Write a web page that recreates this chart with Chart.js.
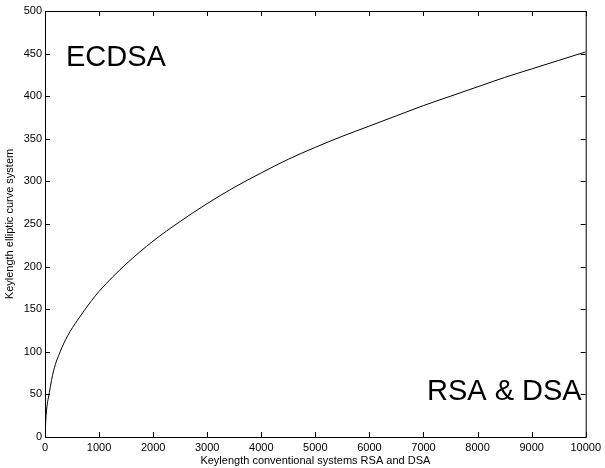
<!DOCTYPE html>
<html>
<head>
<meta charset="utf-8">
<title>Keylength</title>
<script src="https://cdn.jsdelivr.net/npm/chart.js@4/dist/chart.umd.min.js"></script>
<style>
  html, body { margin: 0; padding: 0; background: #fff; }
  #wrap { width: 605px; height: 468px; position: relative; }
</style>
</head>
<body>
<div id="wrap"><canvas id="myChart"></canvas></div>
<script>
'use strict';

// Data
let rsaLengths = [0, 20, 80, 160, 280, 420, 600, 860, 1000, 1500, 2000, 2500, 3000, 3500, 4000,
  4500, 5000, 5500, 6000, 6500, 7000, 7500, 8000, 8500, 9000, 9500, 10000];
let eccLengths = [0, 25, 52, 78, 100, 119, 137, 160, 171, 203, 230, 253, 274, 293, 310,
  326, 340, 353, 365, 377, 389, 400, 411, 422, 432, 442, 452];
let xTicks = [0, 1000, 2000, 3000, 4000, 5000, 6000, 7000, 8000, 9000, 10000];
let yTicks = [0, 50, 100, 150, 200, 250, 300, 350, 400, 450, 500];

let points = [];
for (let i = 0; i < rsaLengths.length; i++) {
  points.push({ x: rsaLengths[i], y: eccLengths[i] });
}

let fontFamily = '"Liberation Sans", Arial, Helvetica, sans-serif';

// Box + inward ticks on all four sides (matlab look)
let boxPlugin = {
  id: 'boxTicks',
  afterDraw(chart) {
    let ctx = chart.ctx;
    let area = chart.chartArea;
    let xs = chart.scales.x;
    let ys = chart.scales.y;
    let len = 5;
    ctx.save();
    ctx.strokeStyle = '#000';
    ctx.lineWidth = 1;
    ctx.strokeRect(area.left + 0.5, area.top + 0.5, area.right - area.left, area.bottom - area.top);
    ctx.beginPath();
    for (let i = 0; i < xTicks.length; i++) {
      let px = Math.round(xs.getPixelForValue(xTicks[i])) + 0.5;
      ctx.moveTo(px, area.bottom);
      ctx.lineTo(px, area.bottom - len);
      ctx.moveTo(px, area.top);
      ctx.lineTo(px, area.top + len);
    }
    for (let i = 0; i < yTicks.length; i++) {
      let py = Math.round(ys.getPixelForValue(yTicks[i])) + 0.5;
      ctx.moveTo(area.left, py);
      ctx.lineTo(area.left + len, py);
      ctx.moveTo(area.right, py);
      ctx.lineTo(area.right - len, py);
    }
    ctx.stroke();

    // region labels
    ctx.fillStyle = '#000';
    ctx.font = '29px ' + fontFamily;
    ctx.textBaseline = 'alphabetic';
    ctx.textAlign = 'left';
    ctx.fillText('ECDSA', area.left + 21, area.top + 55);
    ctx.textAlign = 'right';
    ctx.fillText('RSA & DSA', area.right - 4, area.bottom - 37);
    ctx.restore();
  }
};

let ctx = document.getElementById('myChart').getContext('2d');
let myChart = new Chart(ctx, {
  type: 'line',
  data: {
    datasets: [{
      data: points,
      borderColor: '#000',
      borderWidth: 1,
      pointRadius: 0,
      fill: false,
      cubicInterpolationMode: 'monotone'
    }]
  },
  options: {
    responsive: true,
    maintainAspectRatio: false,
    animation: false,
    layout: {
      padding: { top: 11, right: 17, left: 0, bottom: 0 }
    },
    plugins: {
      legend: { display: false },
      tooltip: { enabled: false }
    },
    scales: {
      x: {
        type: 'linear',
        min: 0,
        max: 10000,
        afterBuildTicks(scale) {
          scale.ticks = xTicks.map(v => ({ value: v }));
        },
        afterFit(scale) {
          scale.height = 31;
        },
        grid: { display: true, drawOnChartArea: false, drawTicks: false },
        border: { display: true, color: '#000', width: 1 },
        ticks: {
          color: '#000',
          padding: 4,
          maxRotation: 0,
          font: { family: fontFamily, size: 11 },
          callback: value => String(value)
        },
        title: {
          display: true,
          text: 'Keylength conventional systems RSA and DSA',
          color: '#000',
          padding: { top: 0, bottom: 0 },
          font: { family: fontFamily, size: 11 }
        }
      },
      y: {
        type: 'linear',
        min: 0,
        max: 500,
        afterBuildTicks(scale) {
          scale.ticks = yTicks.map(v => ({ value: v }));
        },
        afterFit(scale) {
          scale.width = 45;
        },
        grid: { display: true, drawOnChartArea: false, drawTicks: false },
        border: { display: true, color: '#000', width: 1 },
        ticks: {
          color: '#000',
          padding: 3,
          font: { family: fontFamily, size: 11 },
          callback: value => String(value)
        },
        title: {
          display: true,
          text: 'Keylength elliptic curve system',
          color: '#000',
          padding: { top: 3, bottom: 0 },
          font: { family: fontFamily, size: 11 }
        }
      }
    }
  },
  plugins: [boxPlugin]
});
</script>
</body>
</html>
